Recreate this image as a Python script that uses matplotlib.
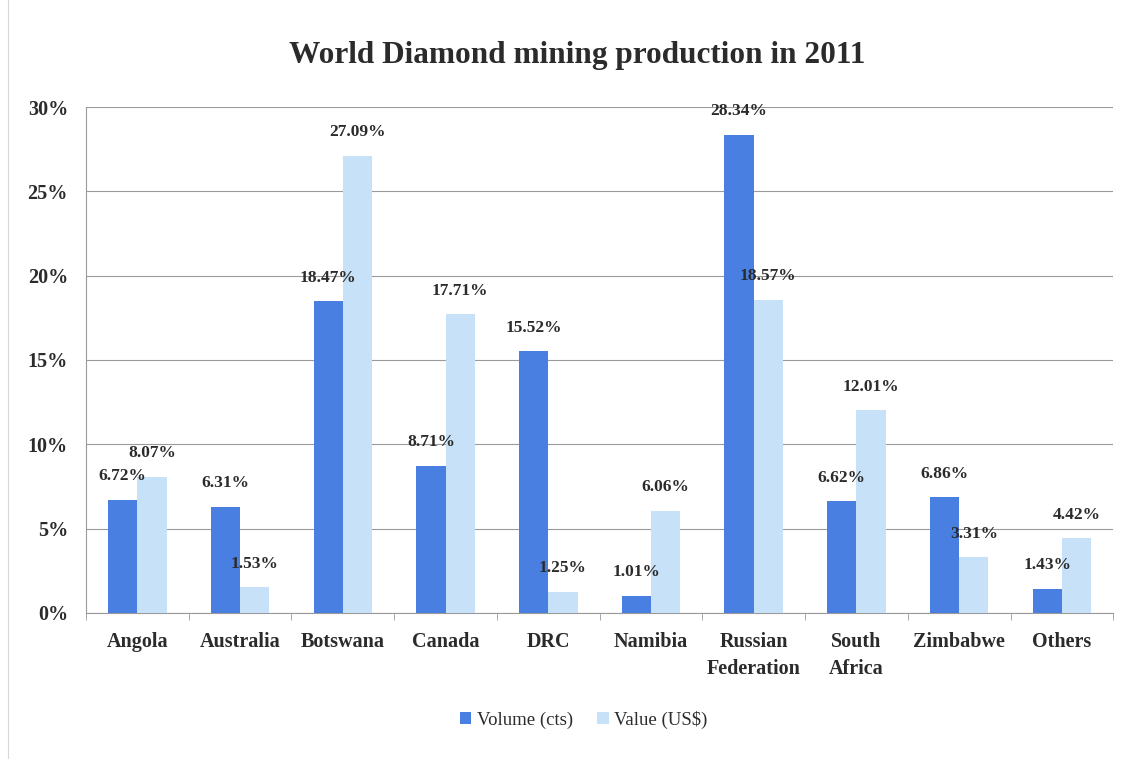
import matplotlib
matplotlib.use("Agg")
import matplotlib.pyplot as plt
import numpy as np
from matplotlib.ticker import FixedLocator, FuncFormatter

countries = ["Angola", "Australia", "Botswana", "Canada", "DRC", "Namibia",
             "Russian\nFederation", "South\nAfrica", "Zimbabwe", "Others"]
volume_cts = [6.72, 6.31, 18.47, 8.71, 15.52, 1.01, 28.34, 6.62, 6.86, 1.43]
value_usd = [8.07, 1.53, 27.09, 17.71, 1.25, 6.06, 18.57, 12.01, 3.31, 4.42]
y_ticks = [0, 5, 10, 15, 20, 25, 30]

plt.rcParams["font.family"] = ["Liberation Serif", "DejaVu Serif"]

vol_color = "#4a7fe2"
val_color = "#c7e1f8"
text_color = "#2b2b2b"
grid_color = "#9a9a9a"

fig = plt.figure(figsize=(11.36, 7.59), dpi=100)
ax = fig.add_axes([0.0757, 0.1924, 0.9043, 0.6666])

x = np.arange(len(countries))
w = 0.285
b1 = ax.bar(x - w / 2, volume_cts, w, color=vol_color, label="Volume (cts)", zorder=3)
b2 = ax.bar(x + w / 2, value_usd, w, color=val_color, label="Value (US$)", zorder=3)

for bars, vals in ((b1, volume_cts), (b2, value_usd)):
    for rect, v in zip(bars, vals):
        ax.annotate(f"{v:.2f}%", (rect.get_x() + rect.get_width() / 2, v),
                    xytext=(0, 17), textcoords="offset points",
                    ha="center", va="center", fontsize=12.5,
                    fontweight="bold", color=text_color, zorder=4)

ax.set_xlim(-0.5, len(countries) - 0.5)
ax.set_ylim(0, 30)
ax.yaxis.set_major_locator(FixedLocator(y_ticks))
ax.yaxis.set_major_formatter(FuncFormatter(lambda v, p: f"{v:.0f}%"))
ax.grid(axis="y", color=grid_color, linewidth=0.8, zorder=0)
ax.set_axisbelow(True)

ax.set_xticks(x)
ax.set_xticklabels(countries, fontsize=14.5, fontweight="bold", color=text_color,
                   linespacing=1.45, va="top")
ax.tick_params(axis="x", which="major", length=0, pad=14)
ax.set_xticks(np.arange(-0.5, len(countries)), minor=True)
ax.tick_params(axis="x", which="minor", length=5, color=grid_color, direction="out")
ax.tick_params(axis="y", length=0, pad=13, labelsize=14.5, labelcolor=text_color)
for lab in ax.get_yticklabels():
    lab.set_fontweight("bold")

for side in ("top", "right"):
    ax.spines[side].set_visible(False)
for side in ("left", "bottom"):
    ax.spines[side].set_color(grid_color)
    ax.spines[side].set_linewidth(0.8)

fig.text(0.508, 0.927, "World Diamond mining production in 2011", ha="center",
         va="center", fontsize=22.5, fontweight="bold", color=text_color)

leg = fig.legend(handles=[b1, b2], loc="center", bbox_to_anchor=(0.514, 0.052),
                 ncol=2, frameon=False, fontsize=13.5, handlelength=0.6,
                 handleheight=0.6, handletextpad=0.3, columnspacing=1.3)
for t in leg.get_texts():
    t.set_color(text_color)

fig.add_artist(plt.Line2D([0.007, 0.007], [0.0, 1.0], color="#d8d8d8",
                          linewidth=0.8, transform=fig.transFigure))

fig.savefig("out.png", dpi=100, facecolor="white")
